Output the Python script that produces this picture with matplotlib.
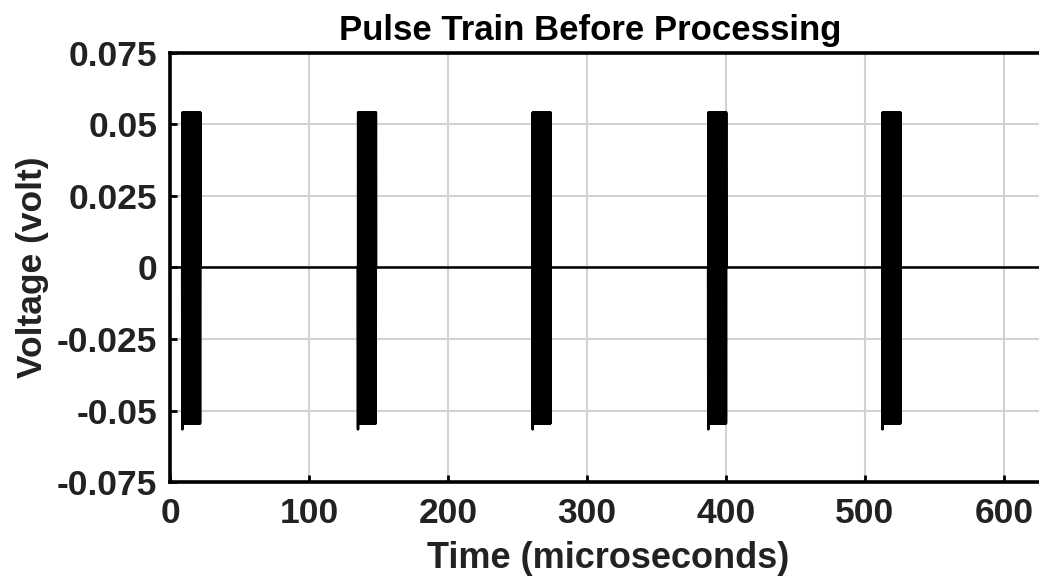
import numpy as np
import matplotlib
matplotlib.use("Agg")
import matplotlib.pyplot as plt

# ─── Datos ─────────────────────────────────────────────────────────────────
pulse_starts = [8.8, 135.2, 260.8, 387.2, 512.6]   # µs
pulse_width  = 13.0                                # µs
amp_pos      = 0.0542                              # V
amp_neg      = -0.0545                             # V
first_trough = -0.0566                             # V (primer semiciclo)
carrier_per  = 0.25                                # µs
t_end        = 626.0

x_ticks  = [0, 100, 200, 300, 400, 500, 600]
y_ticks  = [-0.075, -0.05, -0.025, 0, 0.025, 0.05, 0.075]
y_labels = ["-0.075", "-0.05", "-0.025", "0", "0.025", "0.05", "0.075"]

# ─── Señal: portadora dentro de cada pulso, cero fuera ──────────────────────
t = np.arange(0, t_end, carrier_per / 2)
v = np.zeros_like(t)
for t0 in pulse_starts:
    m = (t >= t0) & (t <= t0 + pulse_width)
    idx = np.where(m)[0]
    v[idx] = np.where((idx - idx[0]) % 2 == 0, amp_neg, amp_pos)
    v[idx[0]] = first_trough

# ─── Figura ─────────────────────────────────────────────────────────────────
plt.rcParams["font.family"] = ["Liberation Sans", "DejaVu Sans"]
plt.rcParams["font.weight"] = "bold"

fig = plt.figure(figsize=(10.39, 5.77), dpi=100)
ax = fig.add_axes([170 / 1039, 95 / 577, 869 / 1039, 429 / 577])

ax.plot(t, v, color="black", lw=1.8)

ax.set_xlim(0, t_end - 0.8)
ax.set_ylim(-0.075, 0.075)
ax.set_xticks(x_ticks)
ax.set_xticklabels([str(x) for x in x_ticks])
ax.set_yticks(y_ticks)
ax.set_yticklabels(y_labels)

ax.grid(True, color="#d2d2d2", lw=1.5)
ax.set_axisbelow(True)
ax.tick_params(direction="in", length=5, width=2, labelsize=25.5,
               colors="black", labelcolor="#222222")
ax.tick_params(axis="y", pad=9)
ax.tick_params(axis="x", pad=11)
for s in ["left", "top", "bottom"]:
    ax.spines[s].set_linewidth(2.6)
ax.spines["right"].set_visible(False)

ax.set_title("Pulse Train Before Processing", fontsize=25, fontweight="bold",
             x=(590 - 170) / 869, pad=9)
ax.set_xlabel("Time (microseconds)", fontsize=26, fontweight="bold",
              color="#222222")
ax.xaxis.set_label_coords((608 - 170) / 869, -0.138)
ax.set_ylabel("Voltage (volt)", fontsize=25.5, fontweight="bold",
              color="#222222", labelpad=6)

fig.savefig("out.png", dpi=100)
